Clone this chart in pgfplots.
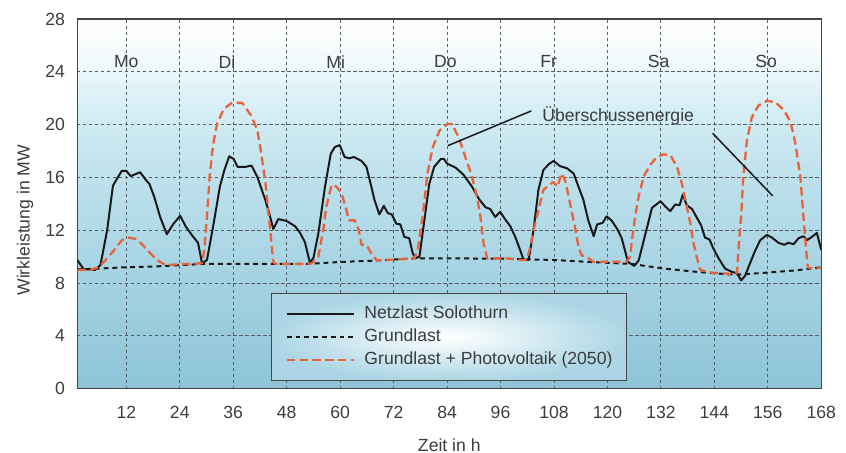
\documentclass[border=0pt]{standalone}
\usepackage{fontspec}
\setmainfont{Liberation Sans}
\usepackage{pgfplots}
\pgfplotsset{compat=1.18}

\definecolor{txtgray}{RGB}{60,60,60}
\definecolor{gridgray}{RGB}{85,95,100}
\definecolor{framegray}{RGB}{70,70,70}
\definecolor{netz}{RGB}{25,25,25}
\definecolor{pvorange}{RGB}{232,98,58}
\definecolor{legblue}{RGB}{172,214,229}
\definecolor{bgbot}{RGB}{142,196,216}
\definecolor{bgA}{RGB}{165,210,226}
\definecolor{bgB}{RGB}{190,225,236}
\definecolor{bgC}{RGB}{212,237,245}
\definecolor{bgD}{RGB}{234,247,250}
\definecolor{bgE}{RGB}{249,252,253}

% axis box maps to 25bp..75bp of the shading
\pgfdeclareverticalshading{axisbg}{100bp}{color(0bp)=(bgbot); color(25bp)=(bgbot);
  color(40bp)=(bgA); color(53.5bp)=(bgB); color(62.5bp)=(bgC); color(68bp)=(bgD);
  color(71.5bp)=(bgE); color(75bp)=(white); color(100bp)=(white)}

\begin{document}
\fontsize{8.8pt}{10.5pt}\selectfont
\begin{tikzpicture}[every node/.append style={text=txtgray}]
\begin{axis}[
  scale only axis,
  width=372pt, height=184.85pt,
  xmin=1, xmax=168, ymin=0, ymax=28,
  xtick={12,24,...,168}, ytick={0,4,...,28},
  grid=major,
  major grid style={gridgray, line width=0.45pt, dash pattern=on 1.6pt off 1.4pt},
  tick style={draw=none},
  axis line style={framegray, line width=0.75pt},
  axis background/.style={shade, shading=axisbg},
  /pgf/number format/assume math mode=true,
  xticklabel style={anchor=center, inner sep=0pt, yshift=-11.65pt},
  yticklabel style={anchor=east, inner sep=0pt, xshift=-6pt},
  xlabel={Zeit in h}, ylabel={Wirkleistung in MW},
  every axis x label/.style={at={(axis description cs:0.5,0)}, yshift=-28.15pt, anchor=center},
  every axis y label/.style={at={(axis description cs:0,0.4557)}, xshift=-26.15pt, rotate=90, anchor=center},
  legend cell align=left,
  legend image code/.code={\draw[#1] (0pt,0pt) -- (33.8pt,0pt);},
  legend style={at={(0.2603,0.0208)}, anchor=south west,
    shade, inner color=white, outer color=legblue,
    draw=framegray, line width=0.6pt,
    inner xsep=7pt, inner ysep=5.8pt, row sep=2.7pt, column sep=4.5pt,
    nodes={inner sep=0pt, text height=0.75em, text depth=0.25em}},
]
% Netzlast Solothurn
\addplot[netz, line width=1pt, line join=round] coordinates {
(1,9.75)(2.4,9.07)(5,9.0)(6.2,9.37)(7.7,12.0)(9,15.37)(9.9,15.9)(11,16.5)(12,16.5)
(13,16.1)(15.1,16.4)(16.3,15.85)(17.2,15.5)(18.3,14.5)(19.6,13.0)(21.1,11.7)(22.6,12.5)
(24.1,13.1)(25.3,12.3)(26.8,11.6)(28.1,11.05)(29,9.5)(30.1,9.75)(31.6,12.5)(33,15.3)
(34,16.55)(35.1,17.6)(36.1,17.4)(37,16.8)(38.7,16.8)(40.1,16.9)(41.4,16.05)(43.2,14.3)
(43.9,13.5)(45,12.1)(46.1,12.85)(48,12.7)(49.9,12.3)(51,11.8)(52.1,11.1)(53.2,9.55)
(54,9.9)(55.1,11.75)(56.6,15.3)(57.9,17.8)(58.8,18.3)(59.9,18.45)(61,17.55)(62.1,17.45)
(63.1,17.55)(64.8,17.25)(65.9,16.8)(67,15.3)(67.7,14.3)(68.8,13.2)(69.8,13.85)(70.7,13.3)
(71.6,13.2)(72.6,12.5)(73.5,12.45)(74.4,11.5)(75.5,11.4)(76.3,10.25)(77,9.9)(77.8,10.0)
(78.9,12.75)(80,15.5)(81.1,16.8)(82.6,17.4)(83.3,17.4)(84,17.05)(85.9,16.75)(87.7,16.2)
(89.6,15.3)(91.1,14.4)(92.6,13.75)(93.7,13.6)(94.8,13.0)(95.9,13.4)(97.1,12.8)(98.2,12.3)
(99.3,11.5)(100.4,10.5)(101.2,9.75)(102.3,9.75)(103.4,12.0)(104.5,15.05)(105.6,16.55)
(106.8,17.0)(107.9,17.25)(109.4,16.85)(110.9,16.7)(112.4,16.3)(113.5,15.3)(114.6,14.3)
(115.7,12.75)(116.9,11.55)(117.7,12.45)(118.9,12.55)(119.8,13.05)(120.9,12.75)(122.1,12.15)
(123.2,11.4)(124.6,9.6)(126,9.3)(127,9.7)(128.5,11.7)(130,13.7)(131.9,14.2)(133,13.8)
(134.1,13.45)(135.2,13.95)(136.2,13.9)(136.9,14.7)(137.8,13.9)(139,13.6)(139.9,13.05)
(141,12.4)(141.9,11.45)(142.9,11.3)(143.8,10.6)(144.9,9.9)(146.4,9.1)(147.9,8.85)
(149.1,8.75)(150,8.2)(150.9,8.55)(152,9.5)(153.2,10.5)(154.3,11.25)(155.8,11.65)
(156.9,11.45)(158.4,11.05)(159.7,10.9)(160.6,11.05)(161.8,10.95)(162.9,11.4)(164,11.55)
(164.8,11.25)(165.9,11.5)(167,11.8)(168,10.5)
};
\addlegendentry{Netzlast Solothurn}
% Grundlast
\addplot[netz, line width=1pt, dash pattern=on 2.4pt off 2pt] coordinates {
(1,9.05)(4,9.07)(12,9.2)(18,9.25)(29.4,9.45)(43,9.45)(52.8,9.45)(60,9.6)(67.7,9.7)
(76.7,9.87)(84.5,9.87)(96,9.85)(102,9.8)(108,9.75)(116,9.6)(125.4,9.45)(132.6,9.1)
(140,8.85)(147.6,8.65)(150.5,8.67)(155,8.77)(162.5,8.97)(168,9.2)
};
\addlegendentry{Grundlast}
% Grundlast + Photovoltaik (2050)
\addplot[pvorange, line width=1.15pt, line join=round, dash pattern=on 4.2pt off 2.2pt] coordinates {
(1,9.0)(3.9,9.0)(5.8,9.2)(7.7,9.87)(9.5,10.6)(11,11.25)(12.5,11.45)(14,11.35)(15.5,10.95)
(17.4,10.25)(18.9,9.75)(20.8,9.37)(29,9.5)(29.5,10.5)(30.1,13.0)(30.7,16.05)(31.5,18.55)
(32.4,20.1)(33.9,21.2)(35.7,21.65)(38,21.65)(40,20.7)(41.4,19.6)(42.2,18.0)(43.2,15.7)
(44.3,12.0)(45,9.6)(45.5,9.45)(53,9.45)(53.6,9.5)(55.1,10.0)(56.2,12.0)(56.9,13.8)
(58.1,15.45)(59.2,15.3)(60.3,14.8)(61.2,13.8)(62,12.75)(63.3,12.75)(64.2,12.0)(64.8,10.9)
(65.9,10.9)(67,10.25)(68.1,9.75)(70.7,9.75)(72.9,9.8)(76.7,9.87)(77.4,10.5)(78.5,13.0)
(79.6,16.3)(80.8,18.3)(82.3,19.55)(84.1,20.05)(85.1,20.05)(86.6,19.05)(88.1,17.55)
(89.6,16.05)(90.7,14.55)(91.5,13.0)(92.2,11.0)(93,9.87)(97.4,9.87)(100.4,9.75)(101.9,9.75)
(102.7,10.75)(103.4,12.0)(104.5,13.5)(105.6,15.05)(106.8,15.4)(107.9,15.65)(108.8,15.3)
(109.7,16.3)(110.5,15.8)(111.6,14.05)(112.7,12.25)(113.5,10.75)(114.2,10.1)(115.3,10.0)
(116.8,9.62)(124.3,9.62)(125.1,10.0)(125.5,11.25)(126.2,13.0)(127,14.55)(128.1,16.05)
(129.6,16.95)(131.1,17.55)(132.6,17.75)(134.1,17.7)(135.6,16.8)(136.7,15.55)(137.8,13.8)
(138.6,12.55)(139.3,11.05)(140.1,9.87)(140.8,9.0)(143.1,8.8)(147.6,8.7)(149.1,8.75)
(149.4,10.5)(150,13.0)(150.5,16.05)(151.3,18.8)(152.4,20.55)(153.9,21.45)(155.8,21.8)
(157.7,21.7)(159.6,21.1)(161.1,20.2)(162.2,18.55)(163.3,16.05)(164,13.0)(164.6,10.5)
(165,9.17)(166.3,9.1)(168,9.17)
};
\addlegendentry{Grundlast + Photovoltaik (2050)}

% day names
\node at (axis cs:12,24.77) {Mo};
\node at (axis cs:34.6,24.77) {Di};
\node at (axis cs:59,24.77) {Mi};
\node at (axis cs:83.6,24.77) {Do};
\node at (axis cs:106.8,24.77) {Fr};
\node at (axis cs:131.5,24.77) {Sa};
\node at (axis cs:155.6,24.77) {So};

% annotation
\draw[netz, line width=0.75pt] (axis cs:84.2,18.41) -- (axis cs:102.9,21.04);
\draw[netz, line width=0.75pt] (axis cs:143.6,19.35) -- (axis cs:157.1,14.6);
\node[anchor=base west, inner sep=0pt] at (axis cs:105.3,20.2) {Überschussenergie};
\end{axis}
\pgfresetboundingbox
\path (-38.65pt,-31.65pt) rectangle (384.35pt,194.35pt);
\end{tikzpicture}
\end{document}
